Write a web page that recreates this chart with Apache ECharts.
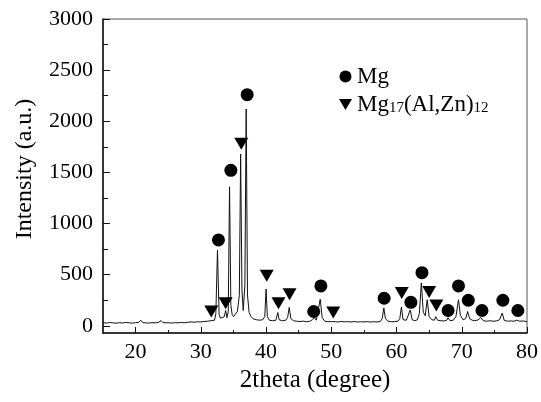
<!DOCTYPE html>
<html>
<head>
<meta charset="utf-8">
<script src="https://cdn.jsdelivr.net/npm/echarts@6/dist/echarts.min.js"></script>
<style>html,body{margin:0;padding:0;background:#fff}#c{width:541px;height:402px}</style>
</head>
<body>
<div id="c"></div>
<script>
// XRD trace (2theta, intensity)
const twoTheta = [
15.0,15.5,16.0,16.5,17.0,17.5,18.0,18.5,19.0,19.5,20.0,20.5,20.8,21.1,21.5,22.0,22.5,23.0,23.5,23.9,24.2,24.5,25.0,25.5,26.0,26.5,27.0,27.5,28.0,28.5,28.8,29.1,29.5,30.0,30.5,31.0,31.5,31.8,32.1,32.3,32.55,32.8,33.0,33.3,33.6,33.8,34.0,34.2,34.4,34.6,34.8,35.0,35.3,35.6,35.9,36.1,36.3,36.5,36.75,36.95,37.15,37.4,37.7,38.0,38.5,39.0,39.5,39.8,40.0,40.2,40.5,41.0,41.5,41.8,42.0,42.5,43.0,43.3,43.55,43.8,44.2,44.7,45.2,45.7,46.2,46.7,47.1,47.4,47.7,48.0,48.3,48.6,49.0,49.5,50.0,50.3,50.6,51.0,51.5,52.0,52.5,53.0,53.5,54.0,54.5,55.0,55.5,56.0,56.5,57.0,57.5,57.8,58.05,58.3,58.7,59.2,59.7,60.2,60.5,60.75,61.0,61.5,61.8,62.1,62.4,62.8,63.2,63.5,63.8,64.1,64.4,64.7,65.0,65.4,65.8,66.0,66.3,66.8,67.3,67.7,67.9,68.2,68.7,69.1,69.5,69.8,70.2,70.6,70.9,71.2,71.6,72.0,72.5,72.9,73.3,73.8,74.3,74.8,75.3,75.8,76.2,76.5,77.0,77.5,78.0,78.4,78.6,78.9,79.4,80.0
];
const intensity = [
30,27,32,29,26,31,28,33,29,27,31,34,55,32,29,27,31,29,33,52,31,28,30,27,31,29,33,30,35,38,55,36,40,38,42,45,50,60,55,120,740,110,75,70,90,150,80,140,1360,200,110,90,95,140,300,1680,350,150,400,2120,300,130,90,70,60,55,60,90,360,90,55,50,55,130,60,50,55,80,180,70,50,45,42,46,40,45,60,80,55,70,260,80,45,40,42,55,40,38,42,39,41,38,42,37,40,38,41,37,40,38,42,70,175,70,45,40,42,45,70,185,60,55,70,155,60,50,60,120,420,130,100,255,90,60,55,90,55,50,48,55,80,50,55,90,255,100,60,70,140,70,55,50,58,80,50,45,50,45,48,60,125,55,45,48,45,55,70,45,48,40
];
// phase markers
const mgX = [32.7,34.6,37.1,47.3,48.4,58.1,62.2,63.9,67.9,69.5,71.0,73.1,76.3,78.6];
const mgY = [840,1520,2260,140,390,270,230,520,150,390,250,150,250,150];
const betaX = [31.6,33.8,36.2,40.1,41.9,43.6,50.3,60.8,65.0,66.1];
const betaY = [140,220,1780,490,220,310,130,320,330,200];
const xMajor = [20,30,40,50,60,70,80];
const xMinor = [25,35,45,55,65,75];
const yMajor = [0,500,1000,1500,2000,2500,3000];
const yMinor = [250,750,1250,1750,2250,2750];

const FONT = 'Liberation Serif';
const chart = echarts.init(document.getElementById('c'), null, {renderer: 'canvas'});
const triPath = 'path://M0,0 L12,0 L6,10 Z';
const trace = twoTheta.map((x, i) => [x, intensity[i]]);
const plain = v => String(v);
chart.setOption({
  animation: false,
  backgroundColor: '#fff',
  grid: {left: 103, right: 9, top: 19, bottom: 69, show: true, borderColor: '#555', borderWidth: 1, containLabel: false},
  legend: {
    orient: 'vertical', left: 334, top: 60, itemGap: 5, itemWidth: 13, itemHeight: 12,
    data: [{name: 'Mg', icon: 'circle'}, {name: 'Mg17(Al,Zn)12', icon: triPath}],
    textStyle: {fontFamily: FONT, fontSize: 23, color: '#000',
      rich: {t: {fontFamily: FONT, fontSize: 23, color: '#000'}, s: {fontFamily: FONT, fontSize: 15, color: '#000', padding: [8, 0, 0, 0]}}},
    formatter: function (n) { return n === 'Mg' ? '{t|Mg}' : '{t|Mg}{s|17}{t|(Al,Zn)}{s|12}'; }
  },
  xAxis: [{
    type: 'value', min: 15, max: 80, position: 'bottom',
    name: '2theta (degree)', nameLocation: 'middle', nameGap: 30,
    nameTextStyle: {fontFamily: FONT, fontSize: 25, color: '#000'},
    axisLine: {show: true, onZero: false, lineStyle: {color: '#111', width: 1.5}},
    axisTick: {show: true, inside: true, length: 6, customValues: xMajor, lineStyle: {color: '#111'}},
    axisLabel: {customValues: xMajor, formatter: plain, fontFamily: FONT, fontSize: 22, color: '#000', margin: 8},
    splitLine: {show: false}
  }, {
    type: 'value', min: 15, max: 80, position: 'bottom',
    axisLine: {show: false, onZero: false},
    axisTick: {show: true, inside: true, length: 3, customValues: xMinor, lineStyle: {color: '#111'}},
    axisLabel: {show: false}, splitLine: {show: false}
  }],
  yAxis: [{
    type: 'value', min: -70, max: 3000,
    name: 'Intensity (a.u.)', nameLocation: 'middle', nameGap: 66,
    nameTextStyle: {fontFamily: FONT, fontSize: 24, color: '#000', padding: [0, 0, 0, 14]},
    axisLine: {show: true, onZero: false, lineStyle: {color: '#111', width: 1.5}},
    axisTick: {show: true, inside: true, length: 7, customValues: yMajor, lineStyle: {color: '#111'}},
    axisLabel: {customValues: yMajor, formatter: plain, fontFamily: FONT, fontSize: 22, color: '#000', margin: 10},
    splitLine: {show: false}
  }, {
    type: 'value', min: -70, max: 3000, position: 'left',
    axisLine: {show: false, onZero: false},
    axisTick: {show: true, inside: true, length: 5, customValues: yMinor, lineStyle: {color: '#111'}},
    axisLabel: {show: false}, splitLine: {show: false}
  }],
  series: [{
    type: 'line', name: 'trace', data: trace, showSymbol: false, symbol: 'none',
    lineStyle: {color: '#111', width: 1}, z: 2
  }, {
    type: 'scatter', name: 'Mg', data: mgX.map((x, i) => [x, mgY[i]]),
    symbol: 'circle', symbolSize: 13, itemStyle: {color: '#000', opacity: 1}, z: 3
  }, {
    type: 'scatter', name: 'Mg17(Al,Zn)12', data: betaX.map((x, i) => [x, betaY[i]]),
    symbol: triPath, symbolSize: [14, 12], itemStyle: {color: '#000', opacity: 1}, z: 3
  }]
});
</script>
</body>
</html>
